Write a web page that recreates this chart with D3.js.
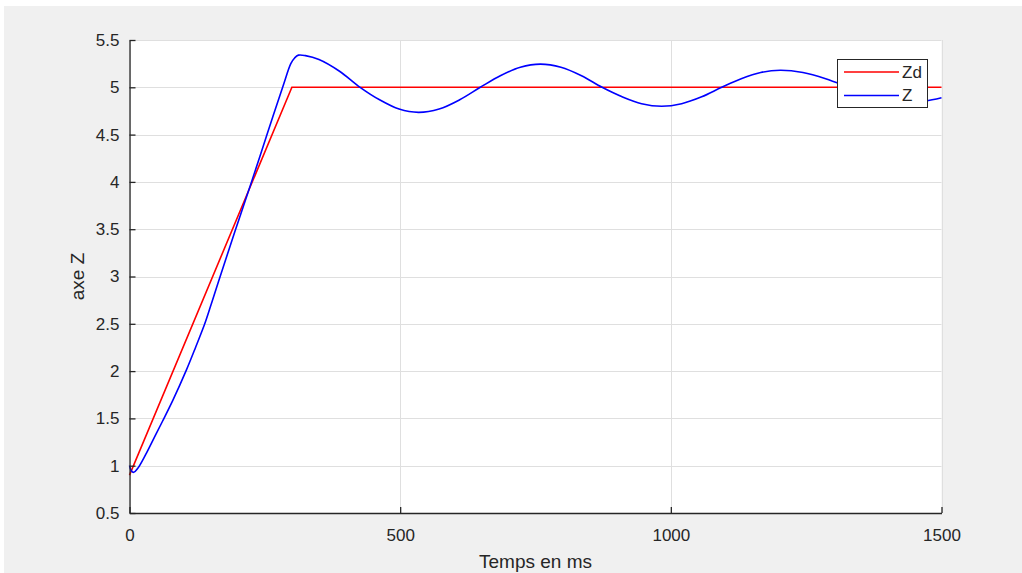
<!DOCTYPE html>
<html>
<head>
<meta charset="utf-8">
<script src="https://cdn.jsdelivr.net/npm/d3@7"></script>
<style>
  html, body { margin: 0; padding: 0; background: #ffffff; }
  svg { display: block; }
  text { font-family: "Liberation Sans", Arial, Helvetica, sans-serif; fill: #262626; }
</style>
</head>
<body>
<svg id="chart" width="1022" height="573"></svg>
<script>
// Commanded height Zd (ramp then hold) and measured height Z, time in ms
const zdTime = [0, 300, 1500];
const zdValue = [0.9, 5, 5];

const zTime = [0, 3, 8, 15, 30, 45, 61, 80, 105, 122, 139, 150, 164, 195, 226, 254, 284, 298, 305, 312, 325, 350, 388, 426, 462, 498, 534, 572, 610, 648, 685, 722, 759, 797, 835, 873, 910, 946, 983, 1020, 1057, 1094, 1130, 1166, 1202, 1244, 1286, 1328, 1364, 1400, 1436, 1470, 1500];
const zValue = [1.00, 0.95, 0.93, 0.97, 1.12, 1.29, 1.47, 1.69, 2.01, 2.25, 2.50, 2.69, 2.94, 3.48, 4.01, 4.50, 5.02, 5.25, 5.31, 5.34, 5.335, 5.294, 5.17, 5.00, 4.868, 4.77, 4.735, 4.77, 4.868, 5.00, 5.1225, 5.212, 5.245, 5.212, 5.1225, 5.00, 4.90, 4.827, 4.80, 4.827, 4.90, 5.00, 5.09, 5.156, 5.18, 5.156, 5.09, 5.00, 4.92, 4.861, 4.84, 4.855, 4.89];

const xTicks = [0, 500, 1000, 1500];
const yTicks = [0.5, 1, 1.5, 2, 2.5, 3, 3.5, 4, 4.5, 5, 5.5];
const seriesNames = ["Zd", "Z"];
const seriesColors = ["#ff0000", "#0000ff"];

const svg = d3.select("#chart");
const W = 1022, H = 573;
const plot = { left: 129.5, right: 941.5, top: 40, bottom: 513 };

// figure background
svg.append("rect").attr("x", 4).attr("y", 6).attr("width", W - 4).attr("height", H - 6).attr("fill", "#f0f0f0");
// axes background
svg.append("rect")
  .attr("x", plot.left).attr("y", plot.top)
  .attr("width", plot.right - plot.left).attr("height", plot.bottom - plot.top)
  .attr("fill", "#ffffff");

const x = d3.scaleLinear().domain([0, 1500]).range([plot.left, plot.right]);
const y = d3.scaleLinear().domain([0.5, 5.5]).range([plot.bottom, plot.top]);

// grid
const grid = svg.append("g").attr("stroke", "#dfdfdf").attr("stroke-width", 1);
grid.selectAll("line.gx").data(xTicks).join("line")
  .attr("x1", d => Math.round(x(d)) + 0.5).attr("x2", d => Math.round(x(d)) + 0.5)
  .attr("y1", plot.top).attr("y2", plot.bottom);
grid.selectAll("line.gy").data(yTicks).join("line")
  .attr("y1", d => Math.round(y(d)) + 0.5).attr("y2", d => Math.round(y(d)) + 0.5)
  .attr("x1", plot.left).attr("x2", plot.right);

// data lines
const zdData = zdTime.map((t, i) => [t, zdValue[i]]);
const zData = zTime.map((t, i) => [t, zValue[i]]);
const line = d3.line().x(d => x(d[0])).y(d => y(d[1]));
const smooth = d3.line().x(d => x(d[0])).y(d => y(d[1])).curve(d3.curveCatmullRom.alpha(0.5));

svg.append("defs").append("clipPath").attr("id", "clip")
  .append("rect").attr("x", plot.left - 2).attr("y", plot.top - 2)
  .attr("width", plot.right - plot.left + 4).attr("height", plot.bottom - plot.top + 4);

const lines = svg.append("g").attr("clip-path", "url(#clip)");
lines.append("path").datum(zdData).attr("d", line)
  .attr("fill", "none").attr("stroke", seriesColors[0]).attr("stroke-width", 1.6);
lines.append("path").datum(zData).attr("d", smooth)
  .attr("fill", "none").attr("stroke", seriesColors[1]).attr("stroke-width", 1.6);

// axes (ticks pointing inward, no box)
const fmt = d => String(d);
const xAxis = d3.axisBottom(x).tickValues(xTicks).tickFormat(fmt).tickSizeInner(-6).tickSizeOuter(0).tickPadding(16);
const yAxis = d3.axisLeft(y).tickValues(yTicks).tickFormat(fmt).tickSizeInner(-6).tickSizeOuter(0).tickPadding(10);

const gx = svg.append("g").attr("transform", `translate(0,${plot.bottom})`).call(xAxis);
const gy = svg.append("g").attr("transform", `translate(${plot.left},0)`).call(yAxis);
[gx, gy].forEach(g => {
  g.select(".domain").attr("stroke", "#262626").attr("stroke-width", 1.3);
  g.selectAll(".tick line").attr("stroke", "#262626").attr("stroke-width", 1.3);
  g.selectAll(".tick text").attr("fill", "#262626").style("font-size", "17px")
    .style("font-family", "'Liberation Sans', Arial, sans-serif");
});

// axis titles
svg.append("text").attr("x", (plot.left + plot.right) / 2).attr("y", 568)
  .attr("text-anchor", "middle").style("font-size", "19px").text("Temps en ms");
svg.append("text").attr("transform", `translate(84,${(plot.top + plot.bottom) / 2}) rotate(-90)`)
  .attr("text-anchor", "middle").style("font-size", "19px").text("axe Z");

// legend
const lg = svg.append("g");
lg.append("rect").attr("x", 837.5).attr("y", 59.5).attr("width", 90).attr("height", 48)
  .attr("fill", "#ffffff").attr("stroke", "#262626").attr("stroke-width", 1);
seriesNames.forEach((name, i) => {
  const ly = 72 + i * 23.5;
  lg.append("line").attr("x1", 844).attr("x2", 899).attr("y1", ly).attr("y2", ly)
    .attr("stroke", seriesColors[i]).attr("stroke-width", 1.6);
  lg.append("text").attr("x", 902).attr("y", ly).attr("dy", "0.35em")
    .style("font-size", "17px").text(name);
});
</script>
</body>
</html>
